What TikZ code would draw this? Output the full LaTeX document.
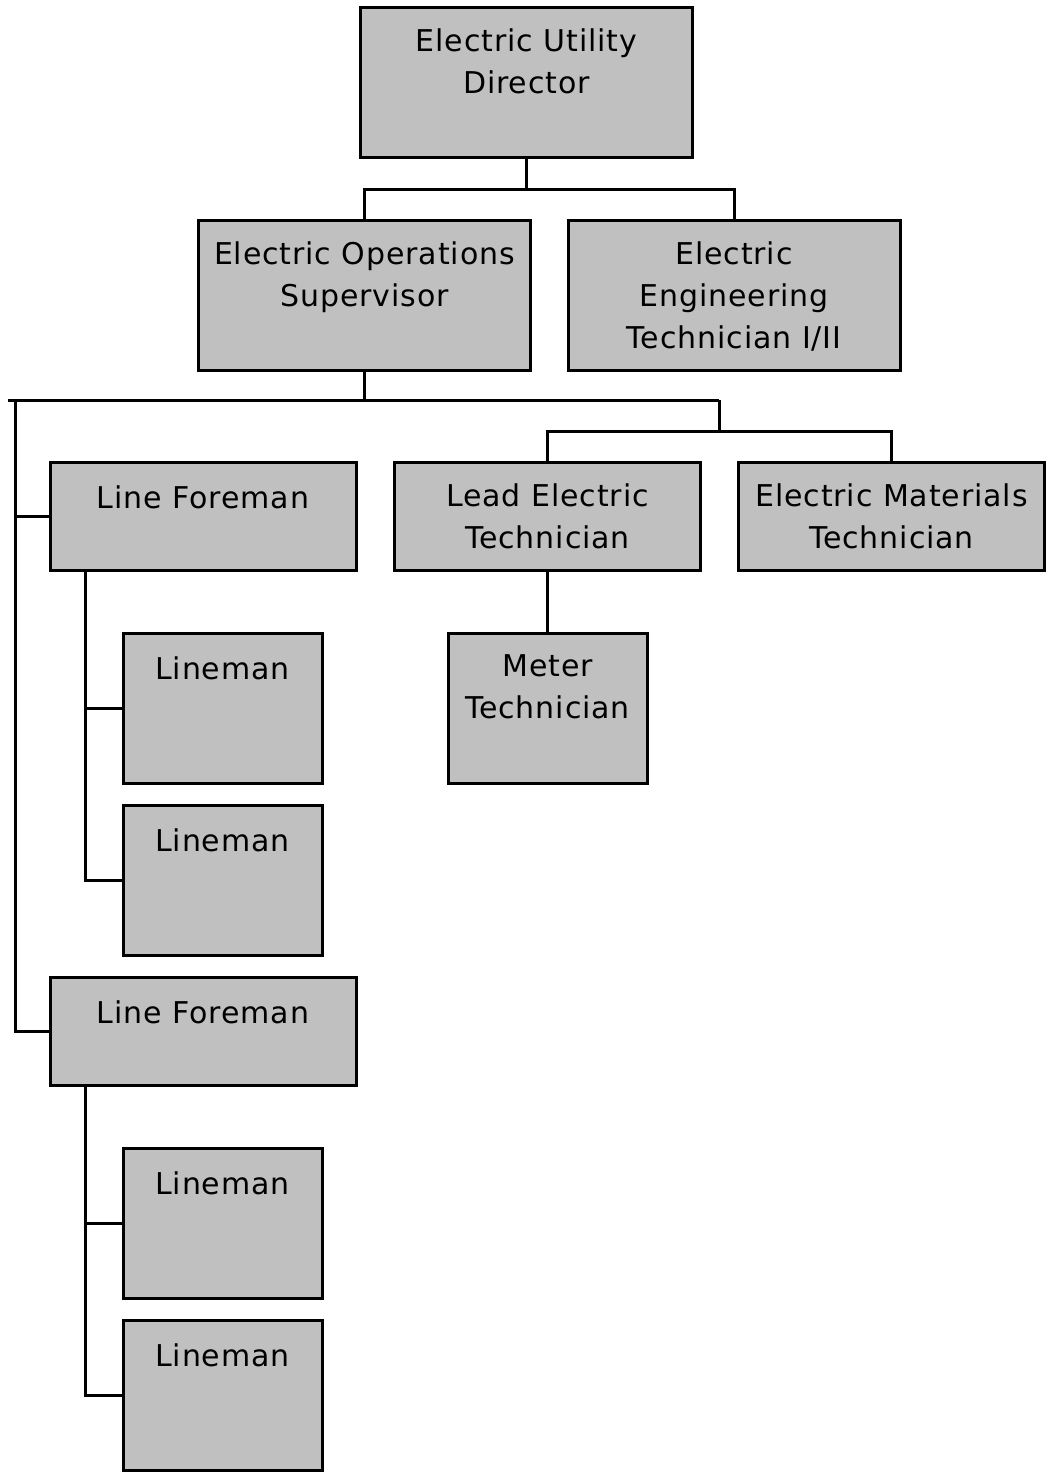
\documentclass[tikz,border=0pt]{standalone}
\usepackage{fontspec}
\setmainfont{DejaVu Sans}[LetterSpace=3]
\usetikzlibrary{positioning}
\definecolor{boxgray}{HTML}{C0C0C0}

\begin{document}
\begin{tikzpicture}[x=0.5pt,y=-0.5pt,
  every path/.style={line width=1.5pt},
  box/.style={draw,fill=boxgray,inner sep=0pt},
  bigbox/.style={box,minimum width=166pt,minimum height=75pt},
  leadbox/.style={box,minimum width=153pt,minimum height=54pt},
  smallbox/.style={box,minimum width=99.5pt,minimum height=75pt},
  lbl/.style={align=center,anchor=north,inner sep=0pt,
    font=\fontsize{15pt}{21pt}\selectfont,
    execute at begin node=\rule{0pt}{12pt}}]
\useasboundingbox (0,0) rectangle (1045,1473);
\node[bigbox] (dir) at (526.5,82) {};
\node[bigbox] (ops) at (364.5,295) {};
\node[bigbox] (eng) at (734,295) {};
\node[leadbox] (lf1) at (203,516) {};
\node[leadbox] (lead) at (547.5,516) {};
\node[leadbox] (mat) at (891.5,516) {};
\node[smallbox] (meter) at (547.5,708) {};
\node[leadbox] (lf2) at (203,1031) {};
\foreach \n/\y in {1/708,2/880,3/1223,4/1395}{
  \node[smallbox] (ln\n) at (222.5,\y) {};
  \node[lbl] (ln\n-t) at ([yshift=-11pt]ln\n.north) {Lineman};
}
\node[lbl] (dir-t) at ([yshift=-11pt]dir.north) {Electric Utility\\Director};
\node[lbl] (ops-t) at ([yshift=-11pt]ops.north) {Electric Operations\\Supervisor};
\node[lbl] (eng-t) at ([yshift=-11pt]eng.north) {Electric\\Engineering\\Technician I/II};
\node[lbl] (lf1-t) at ([yshift=-11pt]lf1.north) {Line Foreman};
\node[lbl] (lead-t) at ([yshift=-11pt]lead.north) {Lead Electric\\Technician};
\node[lbl] (mat-t) at ([yshift=-11pt]mat.north) {Electric Materials\\Technician};
\node[lbl] (meter-t) at ([yshift=-11pt]meter.north) {Meter\\Technician};
\node[lbl] (lf2-t) at ([yshift=-11pt]lf2.north) {Line Foreman};
\coordinate (lbus) at (8,400);
\coordinate (trunk) at (15,400);
\coordinate (rbus) at (719,400);
\draw (dir.south) -- ++(0,31) -| (ops.north);
\draw (dir.south) -- ++(0,31) -| (eng.north);
\draw (ops.south) |- (lbus);
\draw (ops.south) |- (rbus);
\draw (rbus) -- ++(0,31) -| (lead.north);
\draw (rbus) -- ++(0,31) -| (mat.north);
\draw (trunk) |- (lf1.west);
\draw (trunk) |- (lf2.west);
\draw (lead.south) -- (meter.north);
\draw ([xshift=18.5pt]lf1.south west) |- (ln1.west);
\draw ([xshift=18.5pt]lf1.south west) |- (ln2.west);
\draw ([xshift=18.5pt]lf2.south west) |- (ln3.west);
\draw ([xshift=18.5pt]lf2.south west) |- (ln4.west);
\end{tikzpicture}
\end{document}
